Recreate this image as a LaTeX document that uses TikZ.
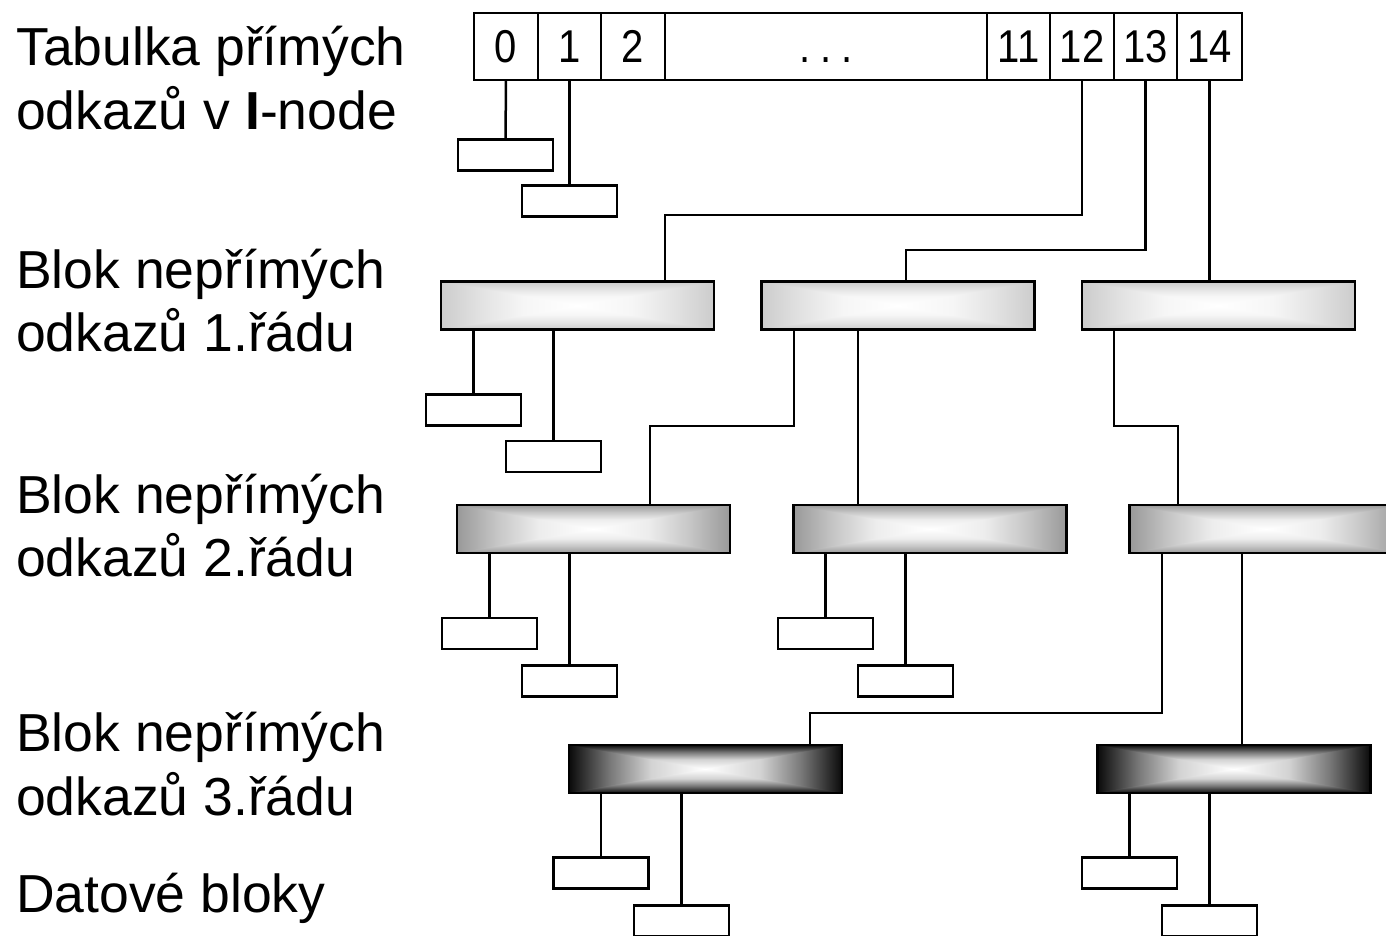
\documentclass[tikz,border=0pt]{standalone}
\usepackage{fontspec}
\setmainfont{Liberation Sans}
\newfontfamily\cellfont[FakeStretch=0.87]{Liberation Sans}
\definecolor{lvA}{HTML}{CCCCCC}
\definecolor{lvB}{HTML}{999999}
\definecolor{lvC}{HTML}{0A0A0A}
\pgfdeclarehorizontalshading{barshA}{100bp}{color(0bp)=(lvA); color(25bp)=(lvA); color(32.5bp)=(lvA!55!white); color(40bp)=(lvA!18!white); color(50bp)=(white); color(60bp)=(lvA!18!white); color(67.5bp)=(lvA!55!white); color(75bp)=(lvA); color(100bp)=(lvA)}
\pgfdeclarehorizontalshading{barshB}{100bp}{color(0bp)=(lvB); color(25bp)=(lvB); color(32.5bp)=(lvB!55!white); color(40bp)=(lvB!18!white); color(50bp)=(white); color(60bp)=(lvB!18!white); color(67.5bp)=(lvB!55!white); color(75bp)=(lvB); color(100bp)=(lvB)}
\pgfdeclarehorizontalshading{barshC}{100bp}{color(0bp)=(lvC); color(25bp)=(lvC); color(32.5bp)=(lvC!55!white); color(40bp)=(lvC!18!white); color(50bp)=(white); color(60bp)=(lvC!18!white); color(67.5bp)=(lvC!55!white); color(75bp)=(lvC); color(100bp)=(lvC)}
\begin{document}
\begin{tikzpicture}[x=1pt,y=-1pt,line width=2.5pt,
  cell/.style={draw,minimum height=67pt,inner sep=0pt,outer sep=0pt,text height=33pt,text depth=0pt,font=\cellfont\fontsize{46}{54}\selectfont},
  data/.style={draw,fill=white,minimum width=95pt,minimum height=31pt,inner sep=0pt,outer sep=0pt},
  bar/.style={draw,minimum width=273pt,minimum height=48pt,inner sep=0pt,outer sep=0pt,
    path picture={
      \path (path picture bounding box.south west) coordinate (ppsw)
            (path picture bounding box.north east) coordinate (ppne)
            (path picture bounding box.north west) coordinate (ppnw)
            (path picture bounding box.south east) coordinate (ppse)
            (path picture bounding box.center) coordinate (ppc);
      \shade[shading=barsh#1] (ppsw) rectangle (ppne);
      \begin{scope}
        \clip (ppnw) -- (ppne) -- (ppc) -- cycle (ppsw) -- (ppse) -- (ppc) -- cycle;
        \shade[shading=barsh#1,shading angle=90] (ppsw) rectangle (ppne);
      \end{scope}
    }},
  lbl/.style={anchor=base west,inner sep=0pt,font=\fontsize{53.5}{62}\selectfont},
  link/.style={draw,line width=2.5pt}]
\clip (0,0) rectangle (1386,936);
% labels
\node[lbl] (t1) at (15,66) {Tabulka přímých};
\node[lbl] (t2) at (15,130) {odkazů v \textbf{I}-node};
\node[lbl] (t3) at (15,288) {Blok nepřímých};
\node[lbl] (t4) at (15,351) {odkazů 1.řádu};
\node[lbl] (t5) at (15,513) {Blok nepřímých};
\node[lbl] (t6) at (15,576) {odkazů 2.řádu};
\node[lbl] (t7) at (15,751) {Blok nepřímých};
\node[lbl] (t8) at (15,815) {odkazů 3.řádu};
\node[lbl] (t9) at (15,912) {Datové bloky};
% table
\node[cell,minimum width=64pt] (c0) at (506,46.5) {0};
\node[cell,minimum width=63pt] (c1) at (569.5,46.5) {1};
\node[cell,minimum width=64pt] (c2) at (633,46.5) {2};
\node[cell,minimum width=322pt] (cd) at (826,46.5) {.\hspace{10pt}.\hspace{10pt}.};
\node[cell,minimum width=63pt] (c11) at (1018.5,46.5) {11};
\node[cell,minimum width=64pt] (c12) at (1082,46.5) {12};
\node[cell,minimum width=63pt] (c13) at (1145.5,46.5) {13};
\node[cell,minimum width=65pt] (c14) at (1209.5,46.5) {14};
% bars
\node[bar=A] (b1a) at (577.5,305.5) {};
\node[bar=A] (b1b) at (898,305.5) {};
\node[bar=A] (b1c) at (1218.5,305.5) {};
\node[bar=B] (b2a) at (593.5,529) {};
\node[bar=B] (b2b) at (930,529) {};
\node[bar=B] (b2c) at (1266,529) {};
\node[bar=C] (b3a) at (705.5,769) {};
\node[bar=C] (b3b) at (1234,769) {};
% data blocks
\node[data] (d0) at (505.5,155) {};
\node[data] (d1) at (569.5,201) {};
\node[data] (e1) at (473.5,410) {};
\node[data] (e2) at (553.5,456.5) {};
\node[data] (f1) at (489.5,633.5) {};
\node[data] (f2) at (569.5,681) {};
\node[data] (f3) at (825.5,633.5) {};
\node[data] (f4) at (905.5,681) {};
\node[data] (g1) at (601,873) {};
\node[data] (g2) at (681.5,921) {};
\node[data] (g3) at (1129.5,873) {};
\node[data] (g4) at (1209.5,921) {};
% bend points
\coordinate (j12) at (665,215);
\coordinate (j13) at (906,250);
\coordinate (k1) at (650,426);
\coordinate (k2) at (1178,426);
\coordinate (k3) at (810,713);
% connectors from table
\draw[link] (c0.south) -- (d0.north);
\draw[link] (c1.south) -- (d1.north);
\draw[link] (c12.south) |- (j12) -- (j12 |- b1a.north);
\draw[link] (c13.south) |- (j13) -- (j13 |- b1b.north);
\draw[link] (c14.south) -- (c14.south |- b1c.north);
% level 1
\draw[link] (e1.north |- b1a.south) -- (e1.north);
\draw[link] (e2.north |- b1a.south) -- (e2.north);
\draw[link] (b1b.south -| 794,0) |- (k1) -- (k1 |- b2a.north);
\draw[link] (b1b.south -| 858,0) -- (858,0 |- b2b.north);
\draw[link] (b1c.south -| 1114,0) |- (k2) -- (k2 |- b2c.north);
% level 2
\draw[link] (f1.north |- b2a.south) -- (f1.north);
\draw[link] (f2.north |- b2a.south) -- (f2.north);
\draw[link] (f3.north |- b2b.south) -- (f3.north);
\draw[link] (f4.north |- b2b.south) -- (f4.north);
\draw[link] (b2c.south -| 1162,0) |- (k3) -- (k3 |- b3a.north);
\draw[link] (b2c.south -| 1242,0) -- (1242,0 |- b3b.north);
% level 3
\draw[link] (g1.north |- b3a.south) -- (g1.north);
\draw[link] (g2.north |- b3a.south) -- (g2.north);
\draw[link] (g3.north |- b3b.south) -- (g3.north);
\draw[link] (g4.north |- b3b.south) -- (g4.north);
\end{tikzpicture}
\end{document}
